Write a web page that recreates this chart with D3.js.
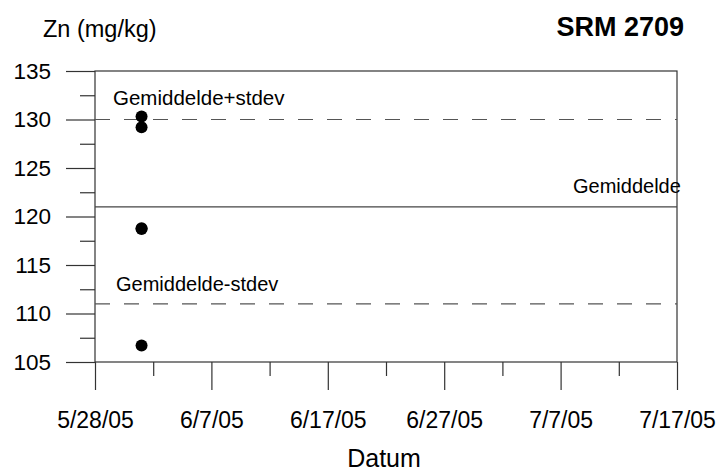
<!DOCTYPE html>
<html>
<head>
<meta charset="utf-8">
<script src="https://cdn.jsdelivr.net/npm/d3@7"></script>
<style>
  html, body { margin: 0; padding: 0; background: #fff; }
  svg { display: block; font-family: "Liberation Sans", Arial, sans-serif; }
</style>
</head>
<body>
<svg id="chart" width="718" height="473"></svg>
<script>
// ---- data ----
const sampleDates = ["2005-06-01", "2005-06-01", "2005-06-01", "2005-06-01", "2005-06-01"];
const znValues = [130.3, 129.2, 118.8, 118.7, 106.7];
const meanValue = 121;
const meanPlusStdev = 130;
const meanMinusStdev = 111;
const xTickLabels = ["5/28/05", "6/7/05", "6/17/05", "6/27/05", "7/7/05", "7/17/05"];
const xTickDates = ["2005-05-28", "2005-06-07", "2005-06-17", "2005-06-27", "2005-07-07", "2005-07-17"];
const xMinorDates = ["2005-06-02", "2005-06-12", "2005-06-22", "2005-07-02", "2005-07-12"];
const yTicks = [105, 110, 115, 120, 125, 130, 135];
const yMinorTicks = [107.5, 112.5, 117.5, 122.5, 127.5, 132.5];

(function () {
const parse = d3.utcParse("%Y-%m-%d");
const svg = d3.select("#chart");

const mLeft = 95, mRight = 677, mTop = 71, mBottom = 362;
const x = d3.scaleUtc().domain([parse("2005-05-28"), parse("2005-07-17")]).range([mLeft, mRight]);
const y = d3.scaleLinear().domain([105, 135]).range([mBottom, mTop]);

const axisColor = "#333";
const ff = "Liberation Sans, Arial, sans-serif";

// y axis (major)
const yAxis = d3.axisLeft(y).tickValues(yTicks).tickSize(29).tickPadding(15).tickFormat(d3.format("d"));
const gy = svg.append("g").attr("transform", `translate(${mLeft},0)`).call(yAxis);
gy.select(".domain").remove();
gy.selectAll(".tick line").attr("stroke", axisColor).attr("stroke-width", 1.2);
gy.selectAll(".tick text").attr("font-size", 22.5).attr("fill", "#000").attr("font-family", ff);
// y minor
const gym = svg.append("g").attr("transform", `translate(${mLeft},0)`)
  .call(d3.axisLeft(y).tickValues(yMinorTicks).tickSize(15).tickFormat(""));
gym.select(".domain").remove();
gym.selectAll(".tick line").attr("stroke", axisColor).attr("stroke-width", 1.2);

// x axis (major)
const xAxis = d3.axisBottom(x).tickValues(xTickDates.map(parse)).tickSize(28).tickPadding(22)
  .tickFormat((d, i) => xTickLabels[i]);
const gx = svg.append("g").attr("transform", `translate(0,${mBottom})`).call(xAxis);
gx.select(".domain").remove();
gx.selectAll(".tick line").attr("stroke", axisColor).attr("stroke-width", 1.2);
gx.selectAll(".tick text").attr("font-size", 23).attr("fill", "#000").attr("font-family", ff);
// x minor
const gxm = svg.append("g").attr("transform", `translate(0,${mBottom})`)
  .call(d3.axisBottom(x).tickValues(xMinorDates.map(parse)).tickSize(14).tickFormat(""));
gxm.select(".domain").remove();
gxm.selectAll(".tick line").attr("stroke", axisColor).attr("stroke-width", 1.2);

// frame box
svg.append("rect").attr("x", mLeft).attr("y", mTop).attr("width", mRight - mLeft).attr("height", mBottom - mTop)
  .attr("fill", "none").attr("stroke", axisColor).attr("stroke-width", 1.2);

// reference lines
const x0 = x.range()[0], x1 = x.range()[1];
svg.append("line").attr("x1", x0).attr("x2", x1).attr("y1", y(meanValue)).attr("y2", y(meanValue))
  .attr("stroke", "#444").attr("stroke-width", 1.2);
[meanPlusStdev, meanMinusStdev].forEach(v => {
  svg.append("line").attr("x1", x0).attr("x2", x1).attr("y1", y(v)).attr("y2", y(v))
    .attr("stroke", "#555").attr("stroke-width", 1.2).attr("stroke-dasharray", "15,14");
});

// annotation labels
svg.append("text").attr("x", 113).attr("y", 105).attr("font-size", 20.5).text("Gemiddelde+stdev");
svg.append("text").attr("x", 116).attr("y", 291).attr("font-size", 20).text("Gemiddelde-stdev");
svg.append("text").attr("x", 573).attr("y", 193).attr("font-size", 20).text("Gemiddelde");

// points
svg.append("g").selectAll("circle").data(znValues).join("circle")
  .attr("cx", (d, i) => x(parse(sampleDates[i])))
  .attr("cy", d => y(d))
  .attr("r", 6)
  .attr("fill", "#000");

// titles
svg.append("text").attr("x", 43).attr("y", 37).attr("font-size", 23.5).text("Zn (mg/kg)");
svg.append("text").attr("x", 684).attr("y", 36).attr("font-size", 27).attr("font-weight", "bold")
  .attr("text-anchor", "end").text("SRM 2709");
svg.append("text").attr("x", 384).attr("y", 467).attr("font-size", 25).attr("text-anchor", "middle").text("Datum");
})();
</script>
</body>
</html>
